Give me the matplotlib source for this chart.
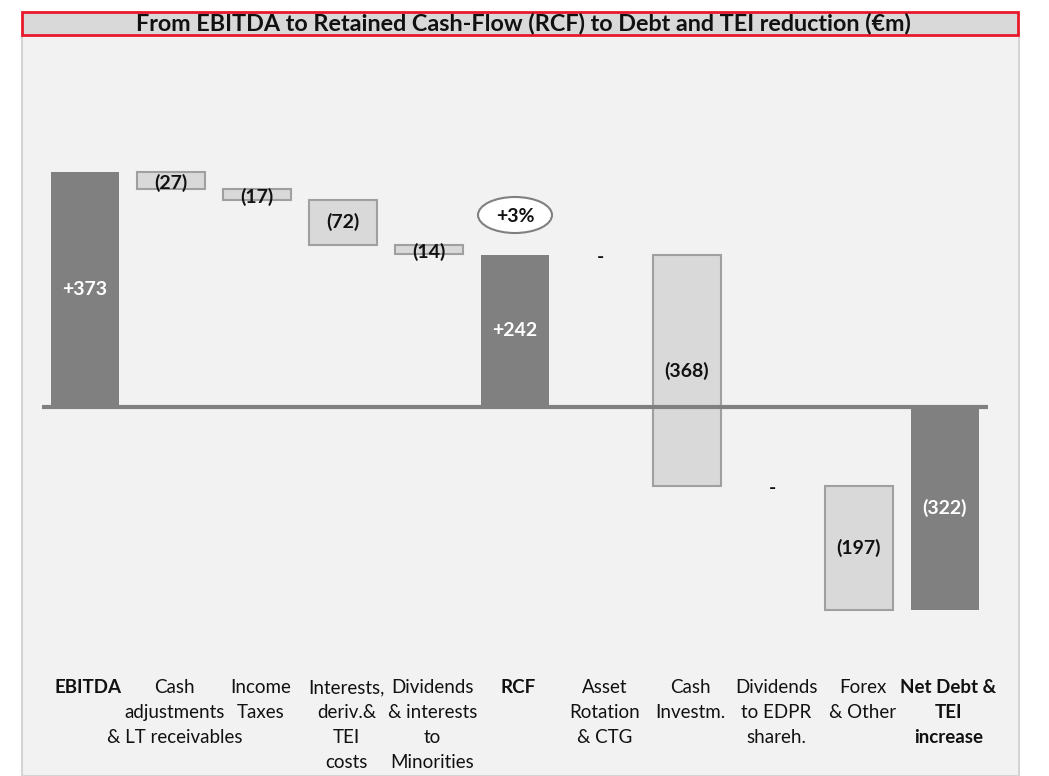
import numpy as np
import matplotlib.pyplot as plt
from matplotlib.patches import Rectangle, Ellipse

plt.rcParams['font.family'] = ['Lato', 'DejaVu Sans']

# data
categories = ['EBITDA', 'Cash\nadjustments\n& LT receivables', 'Income\nTaxes',
              'Interests,\nderiv.&\nTEI\ncosts', 'Dividends\n& interests\nto\nMinorities',
              'RCF', 'Asset\nRotation\n& CTG', 'Cash\nInvestm.', 'Dividends\nto EDPR\nshareh.',
              'Forex\n& Other', 'Net Debt &\nTEI\nincrease']
values = [373, -27, -17, -72, -14, 242, 0, -368, 0, -197, -322]
is_total = [True, False, False, False, False, True, False, False, False, False, True]
bold_cat = [True, False, False, False, False, True, False, False, False, False, True]
growth_label = '+3%'

W, H = 1049, 776
fig = plt.figure(figsize=(W / 100, H / 100), dpi=100)
fig.patch.set_facecolor('white')

# panel background + title band (figure pixel coords)
def px(x, y):
    return x / W, 1 - y / H

panel = Rectangle(px(22, 776), (1019 - 22) / W, (776 - 35) / H, transform=fig.transFigure,
                  facecolor='#f2f2f2', edgecolor='#d4d4d4', linewidth=1.5, zorder=0)
fig.patches.append(panel)
title_box = Rectangle(px(22, 35), (1018 - 22) / W, (35 - 12) / H, transform=fig.transFigure,
                      facecolor='#d9d9d9', edgecolor='#e8192c', linewidth=2, zorder=1)
fig.patches.append(title_box)
fig.text(523 / W, 1 - 24 / H, 'From EBITDA to Retained Cash-Flow (RCF) to Debt and TEI reduction (€m)',
         ha='center', va='center', fontsize=16.8, fontweight='bold', color='#111111', zorder=3)

ax = fig.add_axes([0, 0, 1, 1])
ax.set_zorder(2)
ax.patch.set_visible(False)
ax.set_xlim((0 - 85) / 86, (W - 85) / 86)
scale = 235 / 373
ax.set_ylim((407 - H) / scale, 407 / scale)
ax.axis('off')

x = np.arange(len(categories))
level = 0
for i, v in enumerate(values):
    if is_total[i]:
        level = v
        ax.bar(x[i], v, width=0.78, color='#808080', zorder=2)
        txt = '+%d' % v if v > 0 else '(%d)' % -v
        ax.text(x[i], v / 2, txt, ha='center', va='center',
                color='white', fontsize=14, fontweight='bold', zorder=4)
    elif v == 0:
        ax.text(x[i], level - 4, '-', ha='center', va='center', fontsize=14,
                fontweight='bold', color='#111111', zorder=4)
    else:
        bottom = level + v
        ax.bar(x[i], -v, bottom=bottom, width=0.78, color='#d9d9d9', edgecolor='#a0a0a0',
               linewidth=1.5, zorder=2)
        ycen = level + v / 2
        if abs(v) < 30:
            ycen = level + v / 2 - 4
        ax.text(x[i], ycen, '(%d)' % -v, ha='center', va='center', fontsize=14,
                fontweight='bold', color='#111111', zorder=4)
        level = bottom

# zero line
ax.plot([(42 - 85) / 86, (988 - 85) / 86], [0, 0], color='#808080', linewidth=3, zorder=3,
        solid_capstyle='butt')

# growth bubble above RCF
ax.add_patch(Ellipse((5, (407 - 215) / scale), 74 / 86, 36 / scale, facecolor='white',
                     edgecolor='#808080', linewidth=1.5, zorder=4))
ax.text(5, (407 - 216) / scale, growth_label, ha='center', va='center', fontsize=14,
        fontweight='bold', color='#111111', zorder=5)

# category labels, one text per line (baselines 25px apart)
for i, c in enumerate(categories):
    for k, line in enumerate(c.split('\n')):
        ax.text(x[i] + 0.04, (407 - (693 + 25 * k)) / scale, line, ha='center',
                va='baseline', fontsize=13.5,
                fontweight='bold' if bold_cat[i] else 'normal', color='#111111', zorder=4)

fig.savefig('out.png', dpi=100, facecolor=fig.get_facecolor())
